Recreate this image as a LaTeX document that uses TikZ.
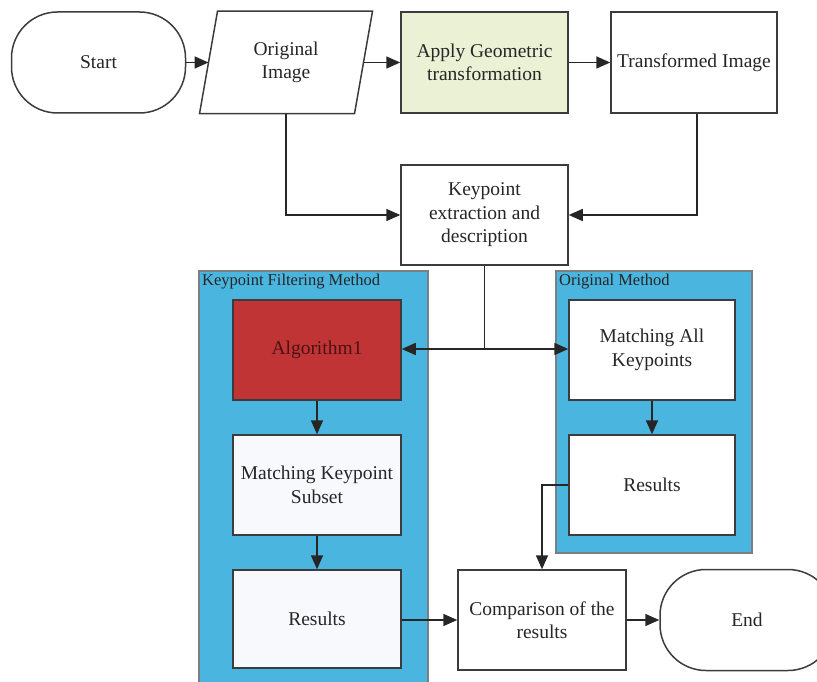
\documentclass[tikz,border=0pt]{standalone}
\usepackage{fontspec}
\setmainfont{Liberation Serif}
\usetikzlibrary{arrows.meta}
\definecolor{panelblue}{HTML}{4AB5DE}
\definecolor{panelline}{HTML}{7A7F84}
\definecolor{boxline}{HTML}{3C3C3C}
\definecolor{txt}{HTML}{262626}
\definecolor{applygreen}{HTML}{EBF1D4}
\definecolor{algred}{HTML}{C03436}
\definecolor{algtxt}{HTML}{4A1212}
\definecolor{paleface}{HTML}{F8F9FC}
\tikzset{
  box/.style={draw=boxline, line width=1.5pt, fill=white, align=center, inner sep=2pt,
    text=txt, font=\fontsize{19.5}{23.5}\selectfont, minimum width=167pt, minimum height=100pt},
  term/.style={box, rounded corners=46pt, minimum width=174pt, minimum height=101pt},
  panel/.style={draw=panelline, line width=1.8pt, fill=panelblue},
  plabel/.style={anchor=north west, inner sep=0pt, text=txt, font=\fontsize{16.5}{18}\selectfont},
  conn/.style={draw=black!85, line width=1.7pt},
  arr/.style={conn, -{Triangle[length=14pt,width=12pt]}},
}
\begin{document}
\begin{tikzpicture}[x=1pt,y=-1pt]
\useasboundingbox (0,0) rectangle (817,682);
% panels
\draw[panel] (199,271) rectangle (428,692);
\node[plabel] (plabL) at (202,274) {Keypoint Filtering Method};
\draw[panel] (556,271) rectangle (752,553);
\node[plabel] (plabR) at (559,274) {Original Method};
% top row
\node[term] (start) at (98.5,62.5) {Start};
\node[box, draw=none, fill=none, minimum width=153.5pt, minimum height=101pt] (orig) at (286,62.5) {Original\\Image};
\draw[draw=boxline, line width=1.5pt]
  ([xshift=9pt]orig.north west) -- ([xshift=9pt]orig.north east) --
  ([xshift=-9pt]orig.south east) -- ([xshift=-9pt]orig.south west) -- cycle;
\node[box, fill=applygreen, minimum height=101pt] (apply) at (484.5,62.5) {Apply Geometric\\transformation};
\node[box, minimum width=166pt, minimum height=101pt] (trans) at (694,62.5) {Transformed Image};
\node[box] (key) at (484.5,215) {Keypoint\\extraction and\\description};
% left panel
\node[box, fill=algred, text=algtxt, minimum width=168pt] (alg) at (317,350) {Algorithm1};
\node[box, fill=paleface, minimum width=168pt] (msub) at (317,485) {Matching Keypoint\\Subset};
\node[box, fill=paleface, minimum width=168pt, minimum height=98pt] (resL) at (317,619) {Results};
% right panel
\node[box, minimum width=166pt] (mall) at (652,350) {Matching All\\Keypoints};
\node[box, minimum width=166pt] (resR) at (652,485) {Results};
% bottom
\node[box, minimum width=168pt] (comp) at (542,620) {Comparison of the\\results};
\node[term] (end) at (747,620) {End};
% connectors
\draw[arr] (start) -- (orig);
\draw[arr] (orig) -- (apply);
\draw[arr] (apply) -- (trans);
\draw[arr] (orig.south) |- (key.west);
\draw[arr] ([xshift=3pt]trans.south) |- (key.east);
\coordinate (j) at (484.5,349);
\draw[conn] (key.south) -- (j);
\draw[arr] (j) -- (alg.east |- j);
\draw[arr] (j) -- (mall.west |- j);
\draw[arr] (alg) -- (msub);
\draw[arr] (msub) -- (resL);
\draw[arr] (mall) -- (resR);
\draw[arr] (resR.west) -| (comp.north);
\draw[arr] (resL.east |- comp.west) -- (comp.west);
\draw[arr] (comp) -- (end);
\end{tikzpicture}
\end{document}
